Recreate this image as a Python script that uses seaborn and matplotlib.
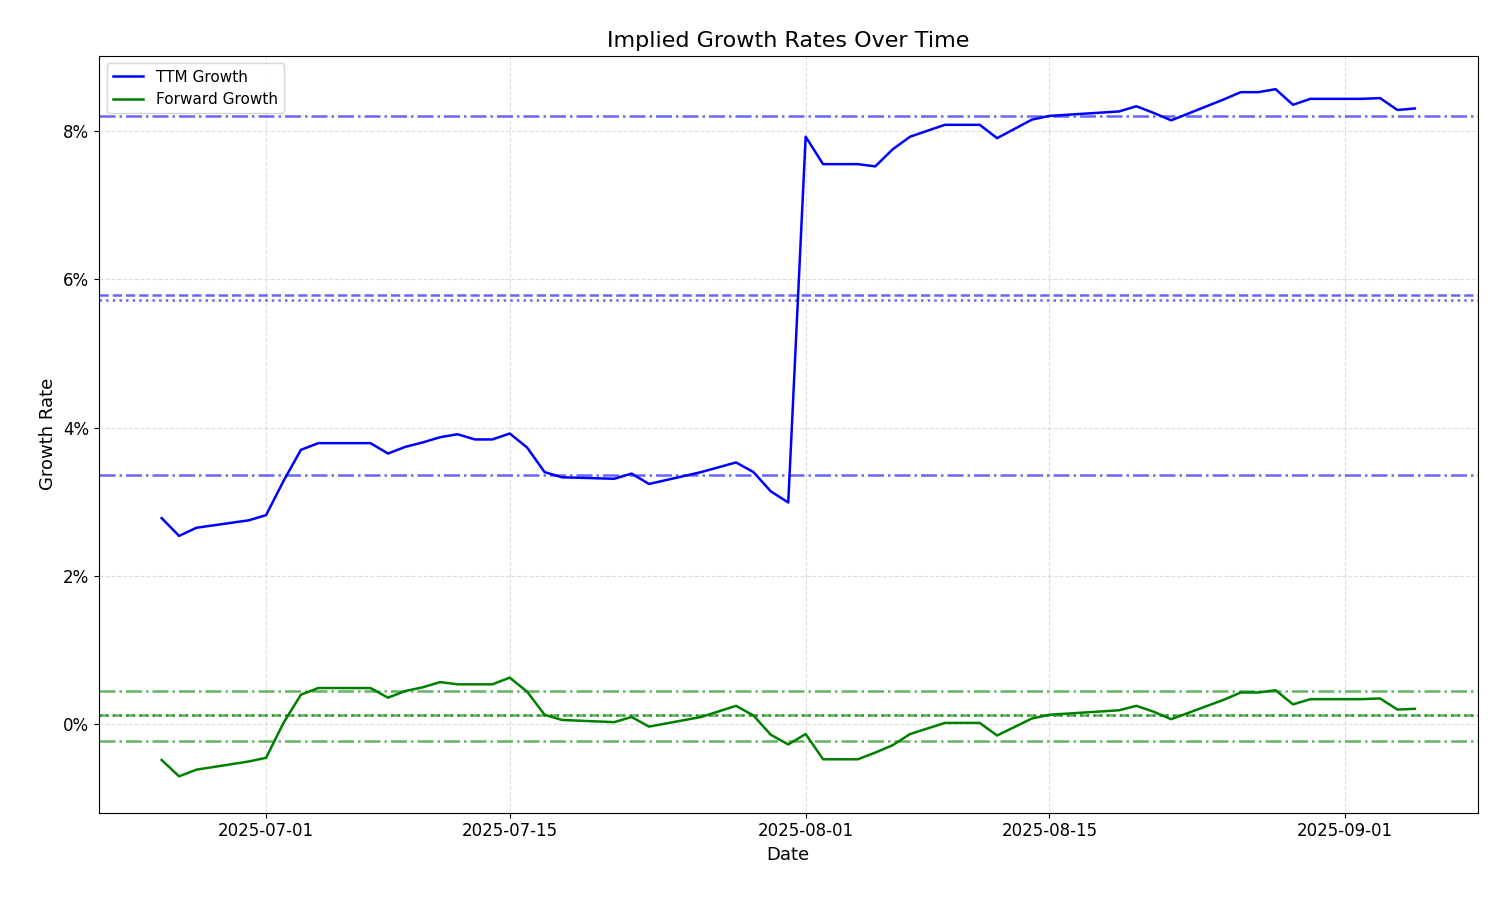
import numpy as np
import pandas as pd
import matplotlib
matplotlib.use("Agg")
import matplotlib.pyplot as plt
import matplotlib.ticker as mtick
import seaborn as sns

day_offsets = [-6,-5,-4,-1,0,1,2,3,6,7,8,9,10,11,12,13,14,15,16,17,20,21,22,25,27,28,29,30,
               31,32,34,35,36,37,39,41,42,44,45,49,50,51,52,55,56,57,58,59,60,63,64,65,66]
ttm = [2.78,2.54,2.65,2.75,2.82,3.28,3.70,3.79,3.79,3.65,3.74,3.80,3.87,3.91,3.84,3.84,3.92,3.73,3.40,3.33,
       3.31,3.38,3.24,3.40,3.53,3.40,3.14,2.99,
       7.92,7.55,7.55,7.52,7.75,7.92,8.08,8.08,7.90,8.15,8.20,8.26,8.33,8.24,8.14,8.42,8.52,8.52,8.56,8.35,8.43,8.43,8.44,8.28,8.30]
fwd = [-0.48,-0.70,-0.61,-0.50,-0.45,0.02,0.40,0.49,0.49,0.36,0.45,0.50,0.57,0.54,0.54,0.54,0.63,0.44,0.13,0.06,
       0.03,0.10,-0.03,0.10,0.25,0.12,-0.14,-0.27,
       -0.13,-0.47,-0.47,-0.38,-0.28,-0.13,0.02,0.02,-0.15,0.08,0.13,0.19,0.25,0.17,0.07,0.33,0.43,0.43,0.46,0.27,0.34,0.34,0.35,0.20,0.21]
ttm_mean, ttm_median, ttm_hi, ttm_lo = 5.78, 5.72, 8.20, 3.36
fwd_mean, fwd_median, fwd_hi, fwd_lo = 0.13, 0.12, 0.45, -0.22

dates = pd.Timestamp("2025-07-01") + pd.to_timedelta(day_offsets, unit="D")
df = pd.DataFrame({"Date": dates, "TTM": np.array(ttm)/100, "FWD": np.array(fwd)/100})

fig, ax = plt.subplots(figsize=(15, 9), dpi=100)
sns.lineplot(data=df, x="Date", y="TTM", color="blue", lw=1.8, label="TTM Growth", ax=ax)
sns.lineplot(data=df, x="Date", y="FWD", color="green", lw=1.8, label="Forward Growth", ax=ax)

for v, ls in [(ttm_mean, "--"), (ttm_median, ":"), (ttm_hi, "-."), (ttm_lo, "-.")]:
    ax.axhline(v/100, color="blue", ls=ls, lw=1.8, alpha=0.6)
for v, ls in [(fwd_mean, "--"), (fwd_median, ":"), (fwd_hi, "-."), (fwd_lo, "-.")]:
    ax.axhline(v/100, color="green", ls=ls, lw=1.8, alpha=0.6)

ax.yaxis.set_major_formatter(mtick.PercentFormatter(1.0, decimals=0))
ax.set_ylim(-0.0119, 0.0901)
ax.set_xticks(pd.to_datetime(["2025-07-01","2025-07-15","2025-08-01","2025-08-15","2025-09-01"]))
ax.xaxis.set_major_formatter(matplotlib.dates.DateFormatter("%Y-%m-%d"))
ax.grid(True, ls="--", alpha=0.4)
ax.set_title("Implied Growth Rates Over Time", fontsize=16)
ax.set_xlabel("Date", fontsize=13)
ax.set_ylabel("Growth Rate", fontsize=13)
ax.tick_params(labelsize=12)
ax.legend(loc="upper left", fontsize=11)
fig.subplots_adjust(left=0.066, right=0.985, top=0.938, bottom=0.097)
fig.savefig("out.png")
